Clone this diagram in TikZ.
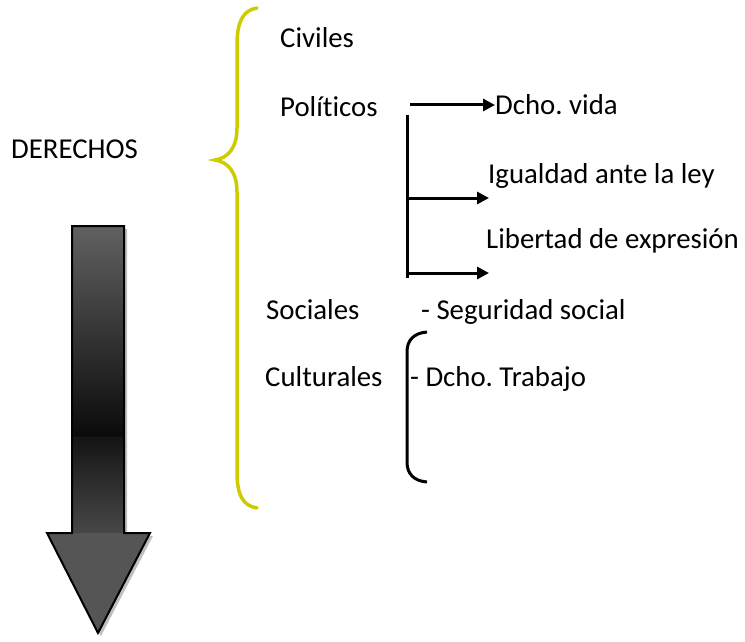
\documentclass[tikz,border=0pt]{standalone}
\usepackage{fontspec}
\setmainfont[Ligatures={NoCommon,NoContextual}]{Carlito}
\usetikzlibrary{arrows.meta}
\definecolor{braceyellow}{RGB}{204,204,0}
\definecolor{headgray}{RGB}{85,85,85}
\frenchspacing
\begin{document}
\begin{tikzpicture}[x=1pt,y=-1pt,
  lbl/.style={anchor=base west, inner sep=0pt, font=\fontsize{28.8}{34}\selectfont},
  arr/.style={line width=3pt, -{Triangle[length=12pt,width=12pt]}},
  blk/.style={line width=3pt, line cap=butt}]
\useasboundingbox (0,0) rectangle (745,642);

% big arrow shadow
\fill[black!25] (75,229) -- (127,229) -- (127,536) -- (153,536) -- (101,636) -- (50,536) -- (75,536) -- cycle;
% big arrow body
\shade[top color=black!62, bottom color=black!96] (72,226) rectangle (124,437);
\shade[top color=black!92, bottom color=black!72] (72,437) rectangle (124,533);
\fill[headgray] (47,533) -- (150,533) -- (98,633) -- cycle;
\draw[black!90, line width=1pt] (72,437) -- (124,437);
\draw[line width=2pt, line join=miter] (72,226) -- (124,226) -- (124,533) -- (150,533) -- (98,633) -- (47,533) -- (72,533) -- cycle;

% labels
\node[lbl] (der) at (11,158) {DERECHOS};
\node[lbl] (civ) at (280,48) {Civiles};
\node[lbl] (pol) at (280,117) {Políticos};
\node[lbl] (dv)  at (495,114) {Dcho. vida};
\node[lbl] (ig)  at (488,183) {Igualdad ante la ley};
\node[lbl] (lib) at (486,248) {Libertad de expresión};
\node[lbl] (soc) at (266,319) {Sociales};
\node[lbl] (seg) at (421,319) {- Seguridad social};
\node[lbl] (cul) at (265,386) {Culturales};
\node[lbl] (tra) at (410,386) {- Dcho. Trabajo};

% yellow brace
\draw[braceyellow, line width=3.5pt, line cap=round]
  (257,8) .. controls (243,10) and (237,22) .. (237,45)
  -- (237,128) .. controls (237,148) and (228,158) .. (215,160)
  .. controls (228,162) and (237,172) .. (237,192)
  -- (237,472) .. controls (237,495) and (243,506) .. (257,508);

% political rights arrows
\coordinate (a1) at (410,105);
\draw[arr] (a1) -- (a1 -| dv.west);
\coordinate (vt) at (407,115);
\coordinate (vb) at (407,278);
\draw[blk] (vt) -- (vb);
\coordinate (a2) at (405.5,198);
\coordinate (a2e) at (489,198);
\draw[arr] (a2) -- (a2e);
\coordinate (a3) at (405.5,273);
\coordinate (a3e) at (489,273);
\draw[arr] (a3) -- (a3e);

% black bracket
\draw[line width=3pt]
  (427,332) .. controls (414,333) and (407,340) .. (407,352)
  -- (407,462) .. controls (407,474) and (414,481) .. (427,482);
\end{tikzpicture}
\end{document}
